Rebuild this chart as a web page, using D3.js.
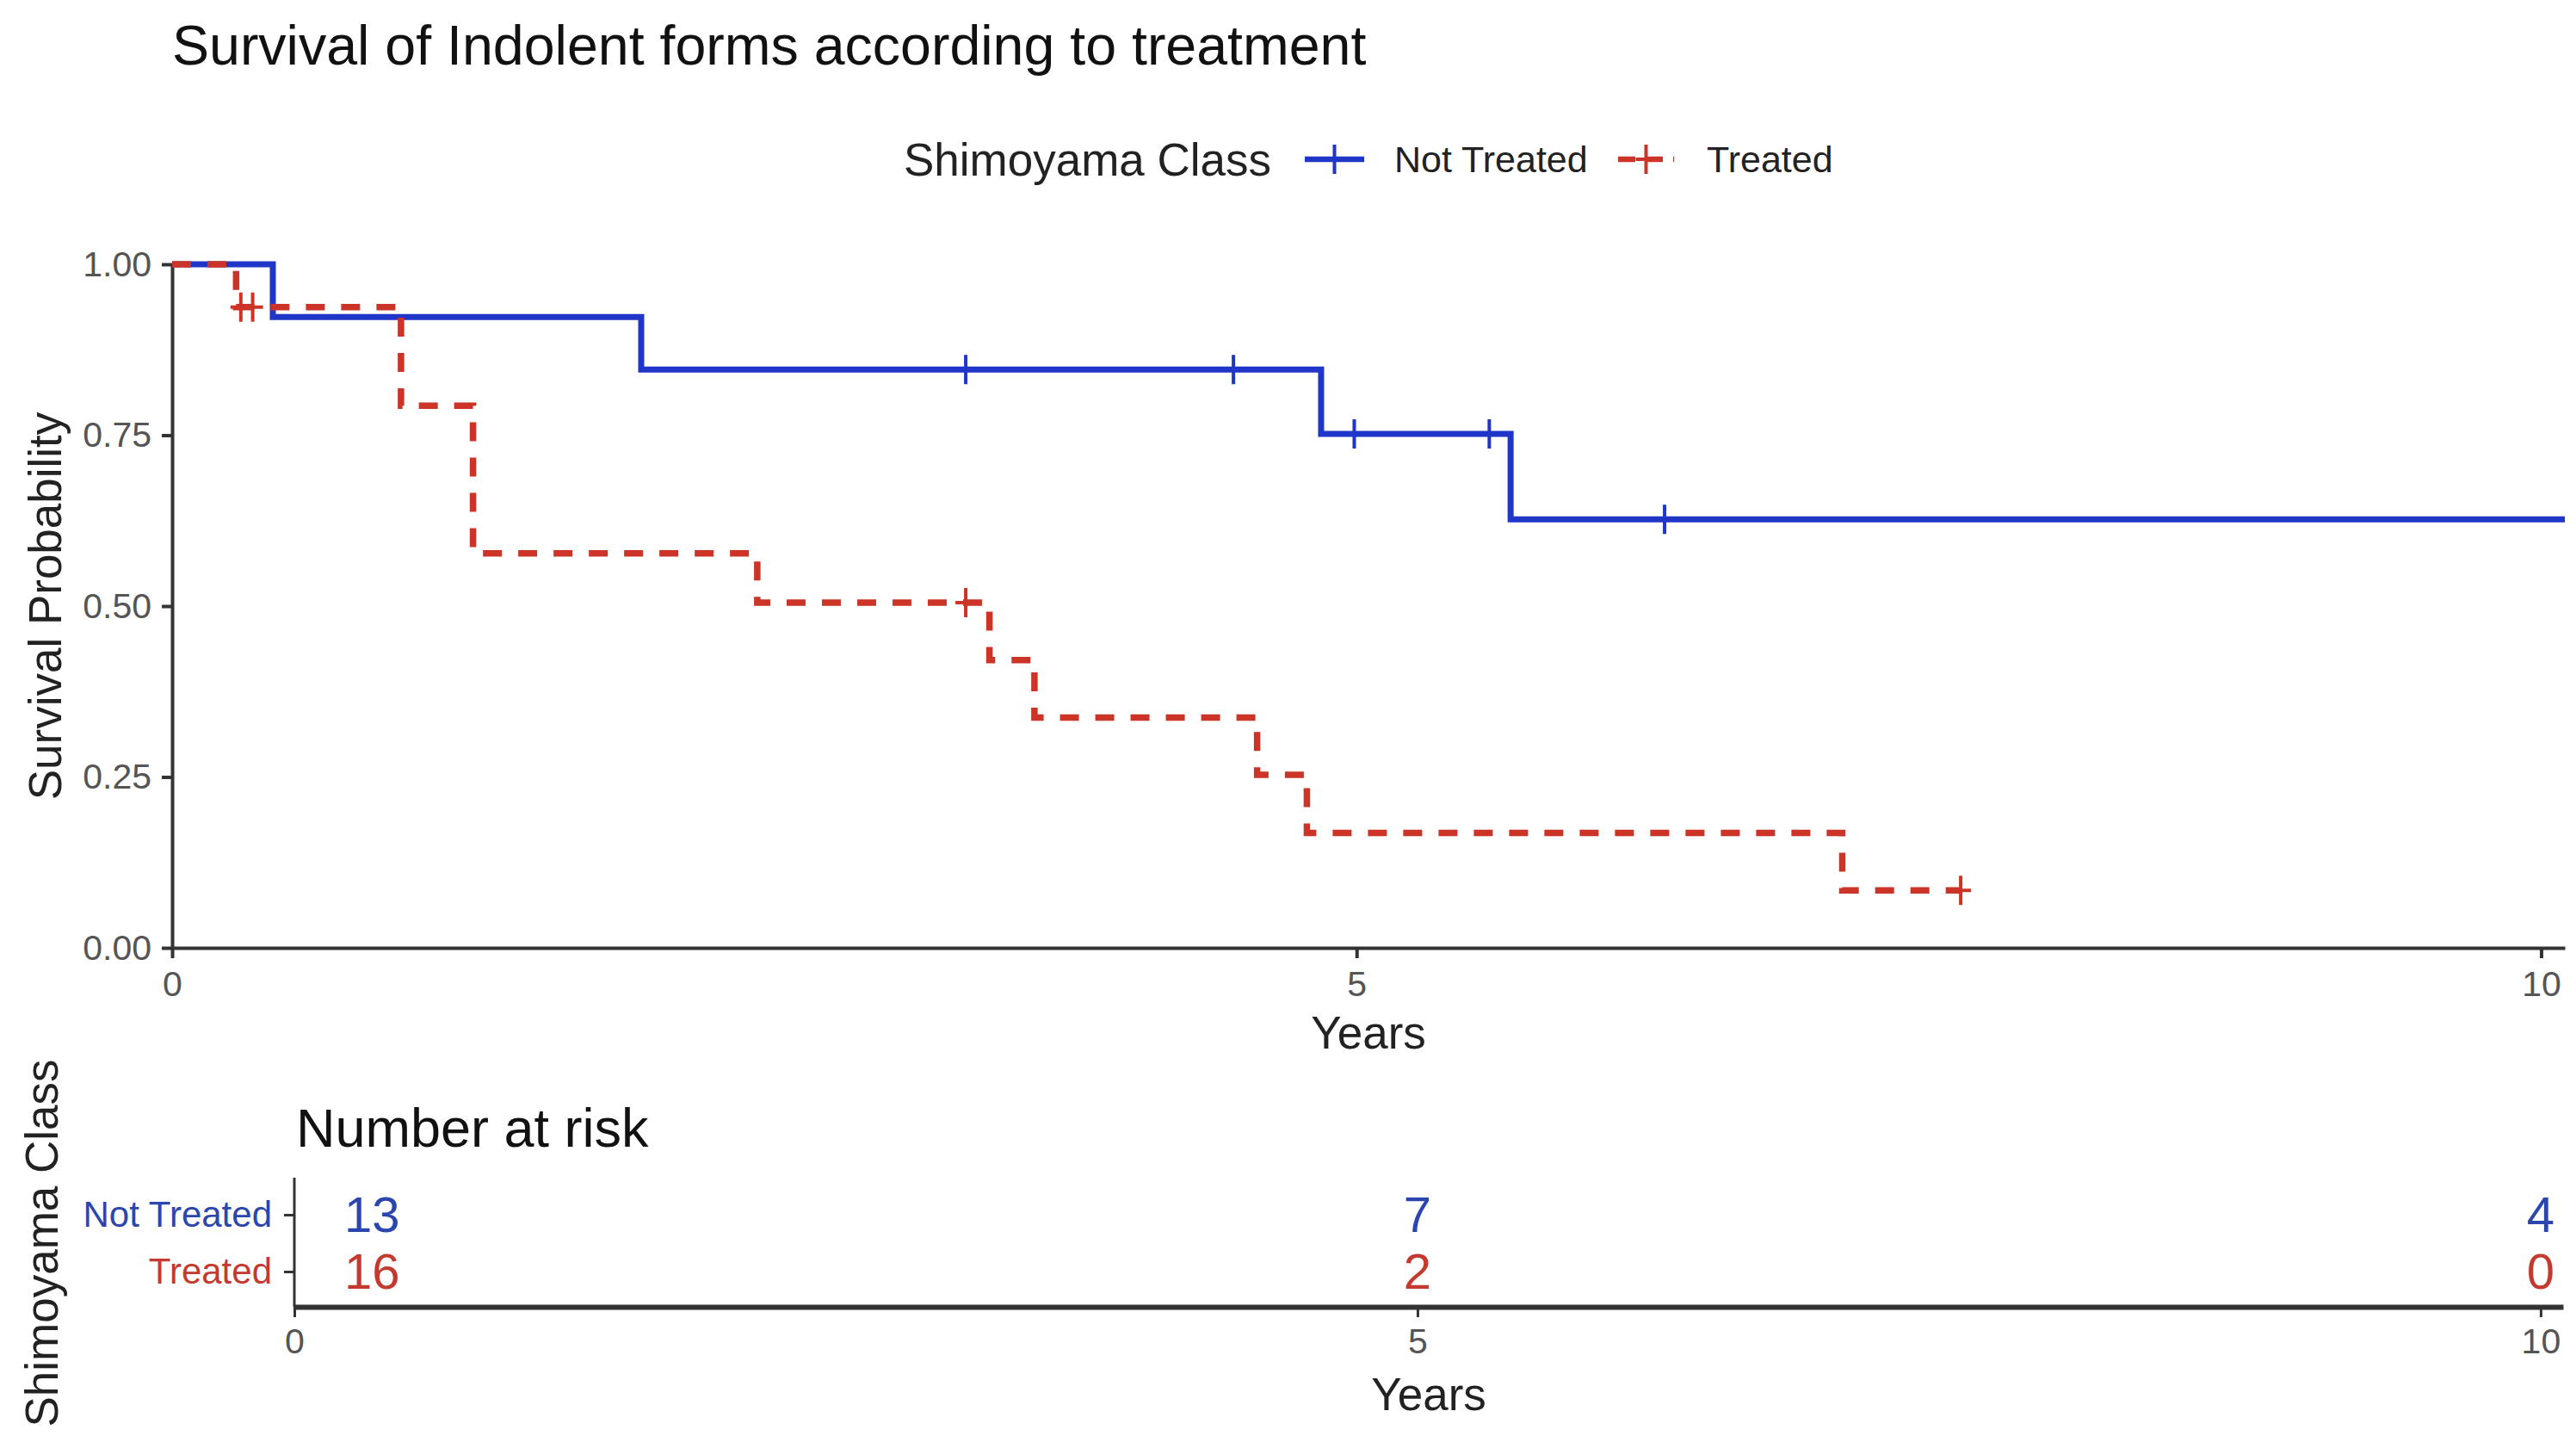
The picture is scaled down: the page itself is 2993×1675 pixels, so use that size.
<!doctype html>
<html>
<head>
<meta charset="utf-8"/>
<script src="https://cdn.jsdelivr.net/npm/d3@7"></script>
<style>
  body { margin: 0; background: #fff; }
  text { font-family: "Liberation Sans", Arial, sans-serif; }
</style>
</head>
<body>
<script>
// Kaplan-Meier steps (years, survival probability)
var groups = ["Not Treated", "Treated"];
var colors = ["#1f36c8", "#cc3427"];
var textColors = ["#2b47ad", "#c53a2e"];

var ntTimes = [0, 0.425, 1.98, 4.85, 5.65, 10.1];
var ntSurv  = [1, 0.923, 0.846, 0.752, 0.627, 0.627];
var ntCens  = [3.35, 4.48, 4.99, 5.56, 6.30];

var trTimes = [0, 0.27, 0.966, 1.27, 2.47, 3.45, 3.64, 4.58, 4.79, 7.05, 7.55];
var trSurv  = [1, 0.9375, 0.793, 0.577, 0.505, 0.421, 0.337, 0.253, 0.168, 0.084, 0.084];
var trCens  = [0.29, 0.34, 3.35, 7.55];

var riskTimes = [0, 5, 10];
var riskNT = [13, 7, 4];
var riskTR = [16, 2, 0];

var xTicks = [0, 5, 10];
var yTicks = [0, 0.25, 0.5, 0.75, 1];

var W = 2993, H = 1675;
var svg = d3.select("body").append("svg").attr("width", W).attr("height", H);
svg.append("rect").attr("width", W).attr("height", H).attr("fill", "#fff");

var x = d3.scaleLinear().domain([0, 10.1]).range([200, 2980]);
var y = d3.scaleLinear().domain([0, 1]).range([1101, 307]);

// title
svg.append("text").attr("x", 200).attr("y", 75)
  .style("font-size", "64.5px").attr("fill", "#111")
  .text("Survival of Indolent forms according to treatment");

// legend
var leg = svg.append("g").attr("transform", "translate(0,185)");
leg.append("text").attr("x", 1050).attr("dy", "0.35em")
  .style("font-size", "53px").attr("fill", "#222").text("Shimoyama Class");
var legItems = [
  {x0: 1516, x1: 1585, label: 1620, dash: null},
  {x0: 1880, x1: 1945, label: 1983, dash: "20,12"}
];
legItems.forEach(function(it, i) {
  leg.append("line").attr("x1", it.x0).attr("x2", it.x1).attr("y1", 0).attr("y2", 0)
    .attr("stroke", colors[i]).attr("stroke-width", 6.5)
    .attr("stroke-dasharray", it.dash);
  var cx = (it.x0 + it.x1) / 2;
  leg.append("path").attr("d", "M" + (cx - 12) + ",0h24M" + cx + ",-17v34")
    .attr("stroke", colors[i]).attr("stroke-width", 4).attr("fill", "none");
  leg.append("text").attr("x", it.label).attr("dy", "0.35em")
    .style("font-size", "43px").attr("fill", "#222").text(groups[i]);
});

// axes
function styleAxis(g, lw) {
  g.selectAll("path, line").attr("stroke", "#333").attr("stroke-width", lw);
  g.selectAll("text").attr("fill", "#555").style("font-size", "41px")
    .style("font-family", "Liberation Sans, Arial, sans-serif");
}
var gy = svg.append("g").attr("transform", "translate(200,0)")
  .call(d3.axisLeft(y).tickValues(yTicks).tickFormat(d3.format(".2f"))
    .tickSize(12).tickSizeOuter(0).tickPadding(12));
styleAxis(gy, 4);
var gx = svg.append("g").attr("transform", "translate(0,1101)")
  .call(d3.axisBottom(x).tickValues(xTicks).tickFormat(d3.format("d"))
    .tickSize(12).tickSizeOuter(0).tickPadding(15));
styleAxis(gx, 4);

svg.append("text").attr("transform", "translate(52,704) rotate(-90)")
  .attr("text-anchor", "middle").attr("dy", "0.35em")
  .style("font-size", "53px").attr("fill", "#222").text("Survival Probability");
svg.append("text").attr("x", 1590).attr("y", 1199).attr("dy", "0.35em")
  .attr("text-anchor", "middle").style("font-size", "53px").attr("fill", "#222").text("Years");

// curves
var line = d3.line().x(function(d) { return x(d[0]); }).y(function(d) { return y(d[1]); })
  .curve(d3.curveStepAfter);
var series = [
  {t: ntTimes, s: ntSurv, c: ntCens, dash: null, lw: 7},
  {t: trTimes, s: trSurv, c: trCens, dash: "22,19", lw: 7.5}
];
function survAt(sr, t) {
  var v = sr.s[0];
  for (var k = 0; k < sr.t.length; k++) { if (sr.t[k] <= t) v = sr.s[k]; }
  return v;
}
series.forEach(function(sr, i) {
  var pts = sr.t.map(function(t, k) { return [t, sr.s[k]]; });
  svg.append("path").datum(pts).attr("d", line)
    .attr("fill", "none").attr("stroke", colors[i]).attr("stroke-width", sr.lw)
    .attr("stroke-dasharray", sr.dash);
  svg.selectAll(null).data(sr.c).enter().append("path")
    .attr("d", function(t) {
      var cx = x(t), cy = y(survAt(sr, t));
      return "M" + (cx - 12) + "," + cy + "h24M" + cx + "," + (cy - 17) + "v34";
    })
    .attr("stroke", colors[i]).attr("stroke-width", 4).attr("fill", "none");
});

// risk table
var xr = d3.scaleLinear().domain([0, 10.1]).range([342, 2978]);
var yr = d3.scalePoint().domain(groups).range([1411, 1477]);

svg.append("text").attr("x", 344).attr("y", 1332)
  .style("font-size", "63px").attr("fill", "#111").text("Number at risk");

var gry = svg.append("g").attr("transform", "translate(342,0)")
  .call(d3.axisLeft(yr).tickSize(12).tickSizeOuter(0).tickPadding(14));
gry.select(".domain").attr("d", "M0,1368V1518");
styleAxis(gry, 3);
gry.selectAll("text").style("font-size", "42px")
  .attr("fill", function(d, i) { return textColors[i]; });

var grx = svg.append("g").attr("transform", "translate(0,1518)")
  .call(d3.axisBottom(xr).tickValues(xTicks).tickFormat(d3.format("d"))
    .tickSize(12).tickSizeOuter(0).tickPadding(13));
styleAxis(grx, 3);
grx.select(".domain").attr("stroke-width", 6);

[riskNT, riskTR].forEach(function(row, i) {
  svg.selectAll(null).data(row).enter().append("text")
    .attr("x", function(d, k) { return k === 0 ? xr(riskTimes[k]) + 58 : xr(riskTimes[k]); })
    .attr("y", yr(groups[i])).attr("dy", "0.35em")
    .attr("text-anchor", function(d, k) { return k === 0 ? "start" : "middle"; })
    .style("font-size", "58px").attr("fill", textColors[i])
    .text(function(d) { return d; });
});

svg.append("text").attr("transform", "translate(48,1444) rotate(-90)")
  .attr("text-anchor", "middle").attr("dy", "0.35em")
  .style("font-size", "53px").attr("fill", "#222").text("Shimoyama Class");
svg.append("text").attr("x", 1660).attr("y", 1619).attr("dy", "0.35em")
  .attr("text-anchor", "middle").style("font-size", "53px").attr("fill", "#222").text("Years");
</script>
</body>
</html>
